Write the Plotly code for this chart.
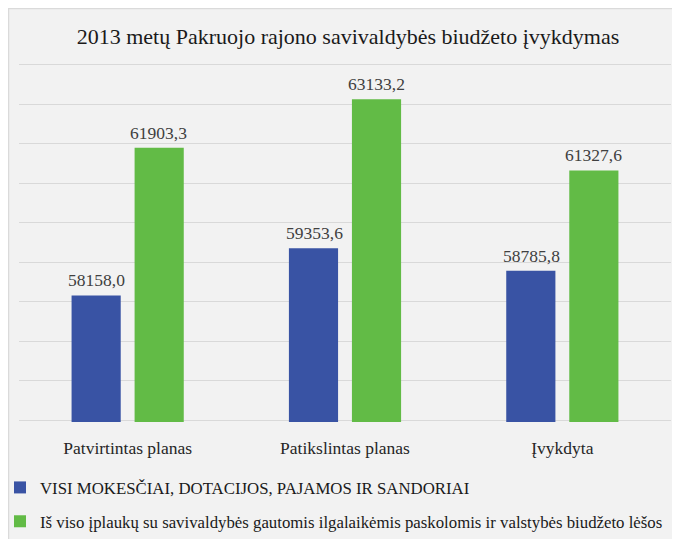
import plotly.graph_objects as go

categories = ["Patvirtintas planas", "Patikslintas planas", "Įvykdyta"]
series_names = [
    "VISI MOKESČIAI, DOTACIJOS, PAJAMOS IR SANDORIAI",
    "Iš viso įplaukų su savivaldybės gautomis ilgalaikėmis paskolomis ir valstybės biudžeto lėšos",
]
blue_values = [58158.0, 59353.6, 58785.8]
green_values = [61903.3, 63133.2, 61327.6]
title_text = "2013 metų Pakruojo rajono savivaldybės biudžeto įvykdymas"

colors = ["#3953a4", "#62bb46"]
FONT = "Liberation Serif, Times New Roman, serif"

OFF = 8  # page body margin offset in the screenshot
W, H = 680, 539
ml, mr, mt, mb = 19 - OFF, W - (671 - OFF), 63 - OFF, 0
pw, ph = W - ml - mr, H - mt - mb
plot_bottom_px = 422 - OFF
dom0 = (H - plot_bottom_px) / ph


def py(p):
    """screen pixel y -> paper fraction"""
    return (H - (p - OFF)) / ph


def px_(x):
    """screen pixel x -> paper fraction"""
    return (x - OFF - ml) / pw


fig = go.Figure()
for i, (name, vals) in enumerate(zip(series_names, [blue_values, green_values])):
    fig.add_trace(go.Bar(
        x=categories, y=vals, name=name,
        marker=dict(color=colors[i], line=dict(width=0)),
        legendgroup=f"g{i}",
        hoverinfo="skip",
    ))


def fmt(v):
    return f"{v:.1f}".replace(".", ",")


annotations = []
for i, vals in enumerate([blue_values, green_values]):
    shift = -31 if i == 0 else 31
    for c, v in zip(categories, vals):
        annotations.append(dict(
            x=c, y=v, xref="x", yref="y", text=fmt(v), showarrow=False,
            xanchor="center", yanchor="bottom", yshift=3, xshift=shift,
            font=dict(family=FONT, size=17.5, color="#404040"),
        ))

fig.update_layout(
    width=W, height=H,
    margin=dict(l=ml, r=mr, t=mt, b=mb, pad=0, autoexpand=False),
    paper_bgcolor="#f2f2f2",
    plot_bgcolor="rgba(0,0,0,0)",
    barmode="group", bargap=0.42, bargroupgap=0.22,
    title=dict(text=title_text, x=0.5, xanchor="center", y=1 - (36 - OFF) / H, yanchor="middle",
               font=dict(family=FONT, size=22, color="#1a1a1a")),
    xaxis=dict(showgrid=False, showline=False, ticks="", ticklabelstandoff=13,
               tickfont=dict(family=FONT, size=17.5, color="#262626")),
    yaxis=dict(domain=[dom0, 1], range=[54950, 64050], dtick=1000, tick0=55000,
               showticklabels=False, showgrid=True, gridcolor="#d9d9d9", gridwidth=1,
               zeroline=False, showline=False),
    legend=dict(orientation="v", x=px_(0), xanchor="left", y=py(470), yanchor="top",
                font=dict(family=FONT, size=16.8, color="#1a1a1a"), tracegroupgap=9,
                bgcolor="rgba(0,0,0,0)", itemclick=False),
    annotations=annotations,
    shapes=[dict(type="rect", xref="paper", yref="paper", layer="below",
                 x0=px_(8.5), x1=px_(W + 20), y0=py(H + 20), y1=py(8.5),
                 fillcolor="rgba(0,0,0,0)", line=dict(color="#dadada", width=1.5))],
    showlegend=True,
)

fig.write_html("out.html")
